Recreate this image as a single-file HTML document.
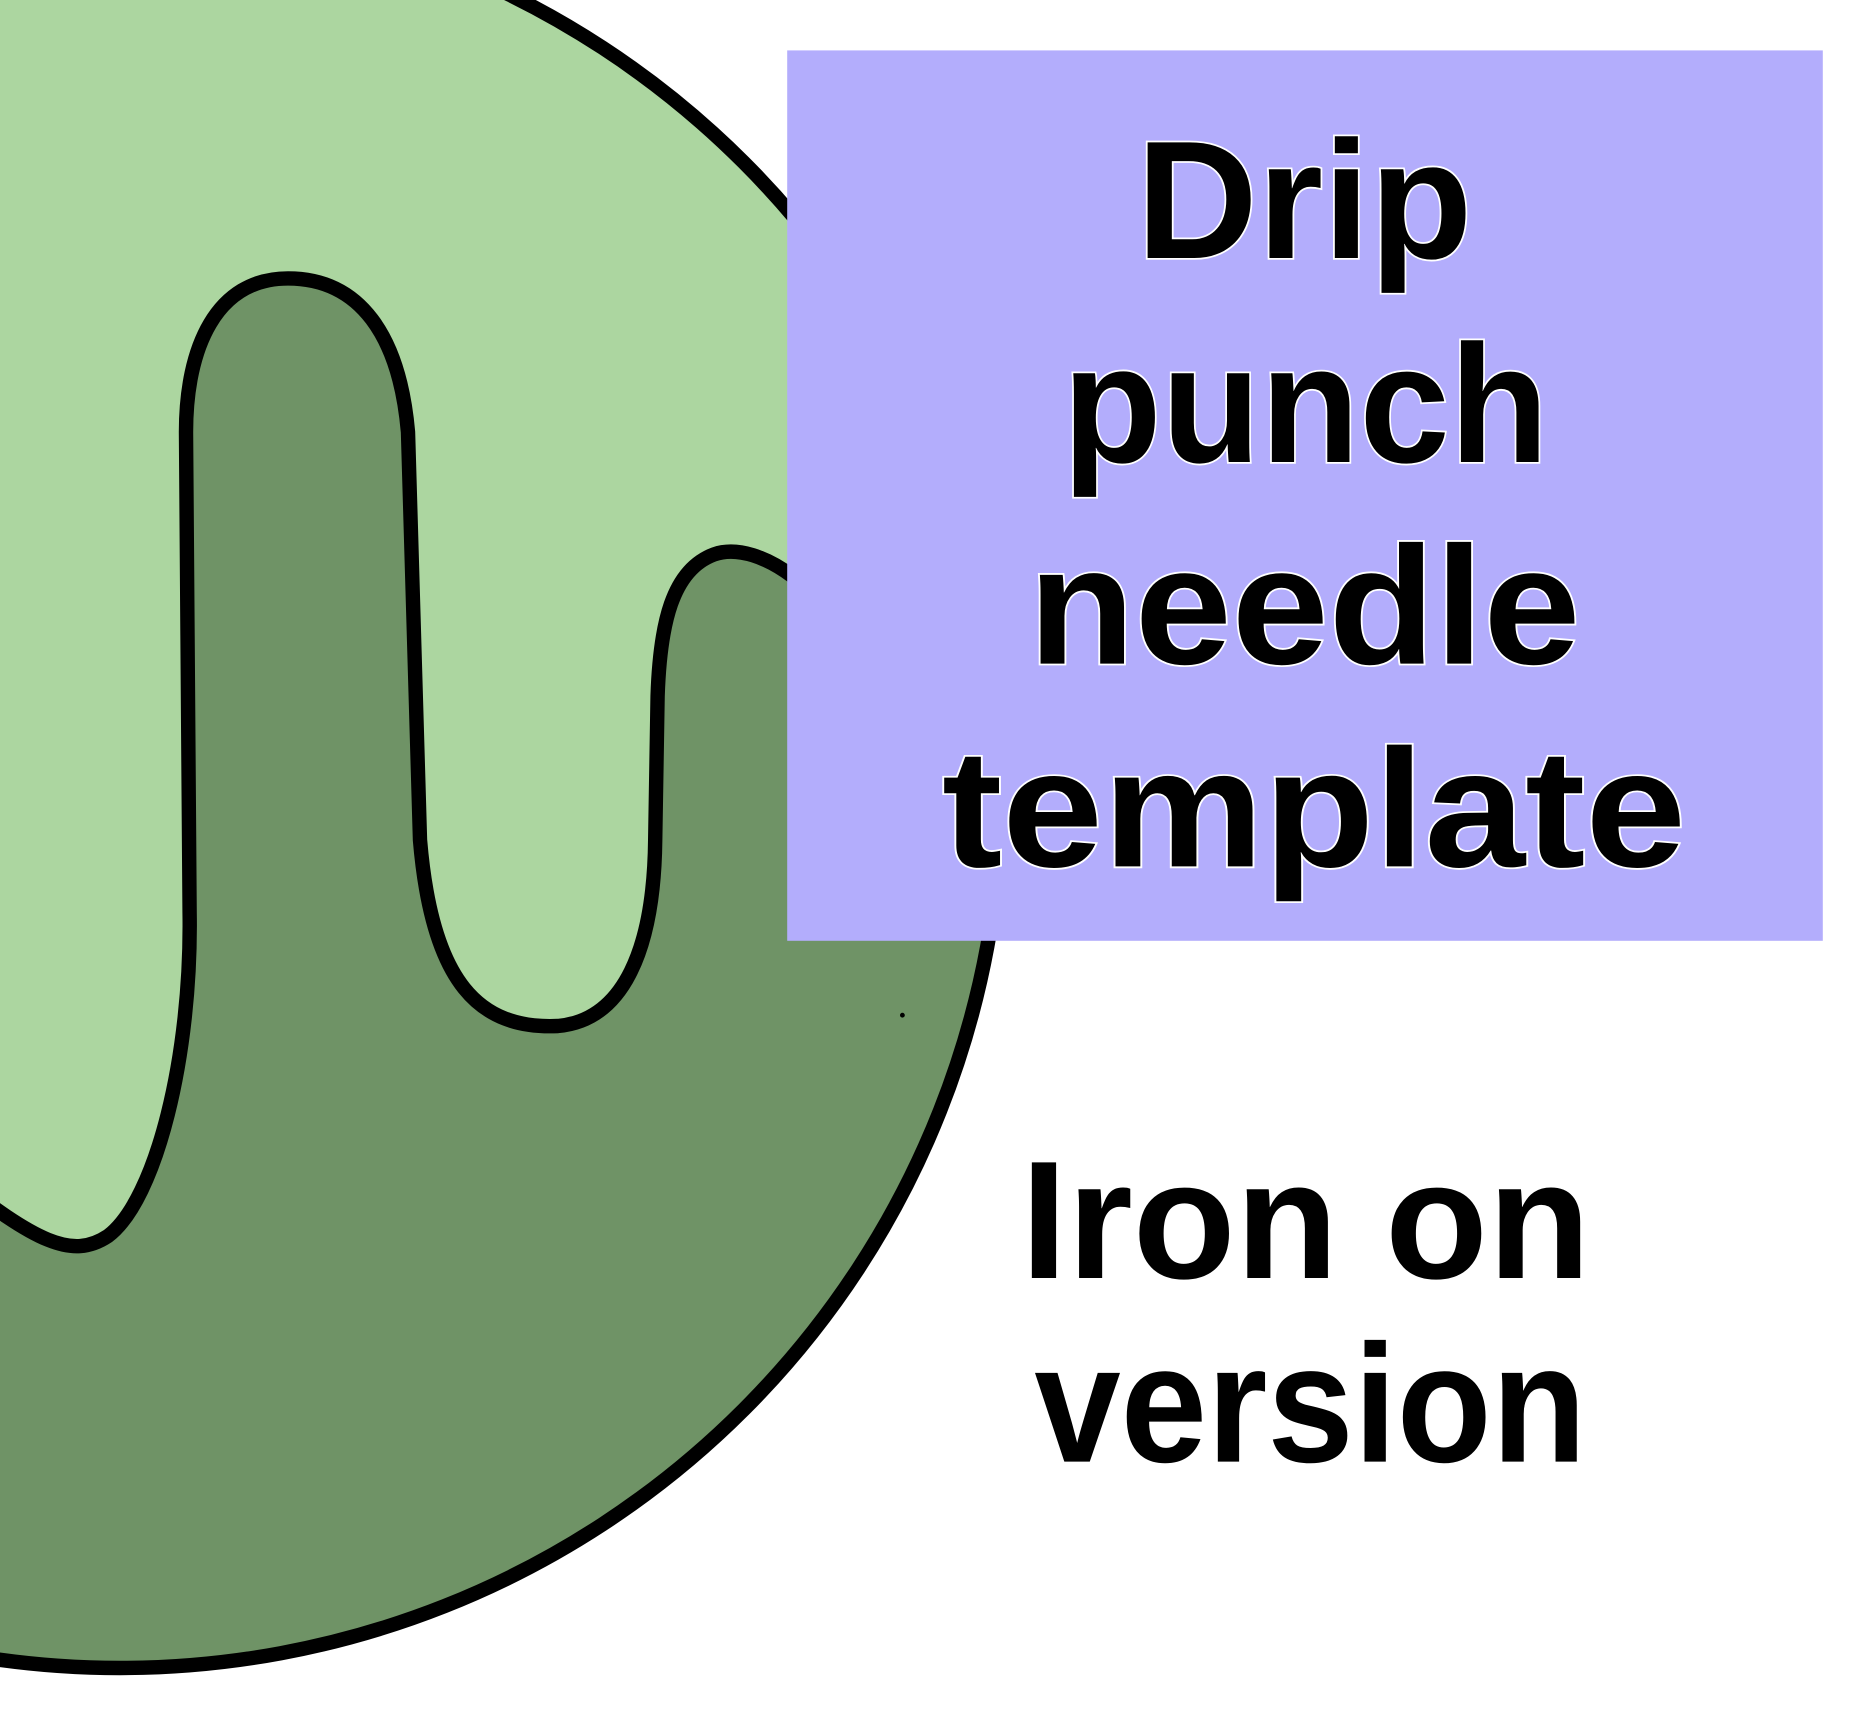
<!DOCTYPE html>
<html><head><meta charset="utf-8"><style>html,body{margin:0;padding:0;background:#fff;overflow:hidden}</style></head>
<body>
<svg width="1860" height="1704" viewBox="0 0 1550 1420" preserveAspectRatio="none" xmlns="http://www.w3.org/2000/svg">
<defs><clipPath id="c"><circle cx="100" cy="655" r="735"/></clipPath></defs>
<rect width="1550" height="1420" fill="#fff"/>
<circle cx="100" cy="655" r="735" fill="#6f9366"/>
<g clip-path="url(#c)">
<path d="M-40,-200 L900,-200 L900,480 L660,480 C640,465 615,455 595,462 C560,475 550,520 548,580 L546,700 C545,790 520,850 465,855 C400,858 360,820 350,700 L340,360 C333,280 300,232 240,232 C180,232 155,290 155,360 L158,760 C160,880 130,1000 90,1030 C60,1050 30,1035 -40,980 Z" fill="#acd6a0" stroke="#000" stroke-width="12" stroke-linejoin="round"/>
</g>
<circle cx="100" cy="655" r="735" fill="none" stroke="#000" stroke-width="12"/>
<rect x="656" y="42" width="863" height="742" fill="#b3adfc"/>
<g font-family="Liberation Sans, sans-serif" font-weight="bold" font-size="140" text-anchor="middle" fill="#000" stroke="#fff" stroke-width="3" paint-order="stroke">
<text x="1087" y="215" textLength="280" lengthAdjust="spacingAndGlyphs">Drip</text>
<text x="1088" y="385" textLength="405" lengthAdjust="spacingAndGlyphs">punch</text>
<text x="1087" y="553" textLength="460" lengthAdjust="spacingAndGlyphs">needle</text>
<text x="1095" y="722" textLength="620" lengthAdjust="spacingAndGlyphs">template</text>
<text x="1088" y="1065" textLength="475" lengthAdjust="spacingAndGlyphs" stroke="none">Iron on</text>
<text x="1092" y="1218" textLength="460" lengthAdjust="spacingAndGlyphs" stroke="none">version</text>
</g>
<circle cx="752" cy="846" r="2" fill="#000"/>
</svg>
</body></html>
